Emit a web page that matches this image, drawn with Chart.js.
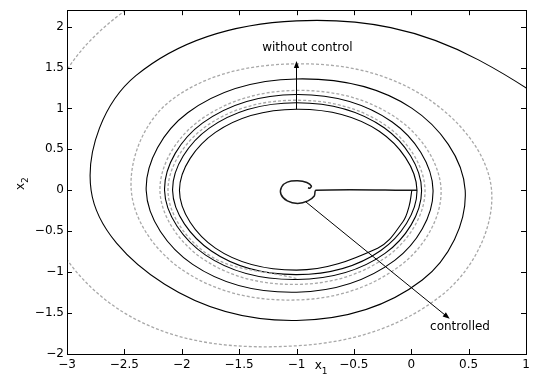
<!DOCTYPE html>
<html>
<head>
<meta charset="utf-8">
<script src="https://cdn.jsdelivr.net/npm/chart.js@4/dist/chart.umd.min.js"></script>
<style>
  html, body { margin: 0; padding: 0; background: #fff; }
  #c { display: block; }
</style>
</head>
<body>
<canvas id="c" width="537" height="379"></canvas>
<script>
// Axis ticks
const xTicks = [-3, -2.5, -2, -1.5, -1, -0.5, 0, 0.5, 1];
const yTicks = [-2, -1.5, -1, -0.5, 0, 0.5, 1, 1.5, 2];

// Uncontrolled trajectory (solid black), spiralling outwards clockwise round (-1, 0)
const freeX = [
  0.005, -0.018, -0.073, -0.293, -1.0, -1.707, -2.02, -1.707, -1.0, -0.279,
  0.05, -0.265, -1.0, -1.742, -2.08, -1.760, -1.0, -0.236,
  0.09, -0.229, -1.0, -1.792, -2.15, -1.820, -1.0, -0.166,
  0.19, -0.144, -1.0, -1.905, -2.31, -1.948, -1.0, 0.004,
  0.47, 0.096, -1.0, -2.149, -2.79, -2.400, -1.0, 0.590, 1.75, 1.1];
const freeY = [
  0, -0.19, -0.384, -0.707, -0.975, -0.707, 0, 0.707, 0.99, 0.721,
  0, -0.735, -1.03, -0.742, 0, 0.760, 1.07, 0.764,
  0, -0.771, -1.09, -0.792, 0, 0.820, 1.17, 0.834,
  0, -0.856, -1.245, -0.905, 0, 0.948, 1.36, 1.004,
  0, -1.096, -1.59, -1.149, 0, 1.400, 2.07, 1.590, 0, -2.1];

// Second uncontrolled trajectory (dotted grey)
const greyX = [
  -1.0, -1.778, -2.12, -1.785, -1.0, -0.215,
  0.12, -0.201, -1.0, -1.827, -2.19, -1.849, -1.0, -0.123,
  0.26, -0.088, -1.0, -1.983, -2.44, -2.096, -1.0, 0.131,
  0.70, 0.273, -1.0, -2.499, -3.25, -2.81, -1.0];
const greyY = [
  -1.08, -0.778, 0, 0.785, 1.10, 0.785,
  0, -0.799, -1.15, -0.827, 0, 0.849, 1.22, 0.877,
  0, -0.912, -1.34, -0.983, 0, 1.096, 1.545, 1.131,
  0, -1.273, -1.90, -1.499, 0, 1.81, 3.3];

// Controlled trajectory: jump towards the centre, then a small loop
const ctrlX = [0.05, -0.83, -0.845, -0.90, -0.99, -1.08, -1.135, -1.13, -1.08, -0.99, -0.91, -0.87, -0.885, -0.90];
const ctrlY = [0, 0, -0.07, -0.13, -0.16, -0.13, -0.05, 0.04, 0.10, 0.115, 0.095, 0.05, 0.025, 0.03];

// Annotation arrows: [x0, y0, x1, y1]
const arrowFree = [-1.0, 0.99, -1.0, 1.58];
const arrowCtrl = [-0.92, -0.14, 0.335, -1.57];
const labelFree = { text: 'without control', x: -0.905, y: 1.745 };
const labelCtrl = { text: 'controlled', x: 0.425, y: -1.67 };

const FONT = '"DejaVu Sans", sans-serif';
const pts = (xs, ys) => xs.map((x, i) => ({ x, y: ys[i] }));
const fmt = v => String(v).replace('-', '\u2212');

function arrow(ctx, xs, ys, a) {
  const x0 = xs.getPixelForValue(a[0]), y0 = ys.getPixelForValue(a[1]);
  const x1 = xs.getPixelForValue(a[2]), y1 = ys.getPixelForValue(a[3]);
  const ang = Math.atan2(y1 - y0, x1 - x0);
  const L = 7, W = 2.6;
  ctx.strokeStyle = '#000';
  ctx.fillStyle = '#000';
  ctx.lineWidth = 1;
  ctx.beginPath();
  ctx.moveTo(x0, y0);
  ctx.lineTo(x1 - Math.cos(ang) * L * 0.8, y1 - Math.sin(ang) * L * 0.8);
  ctx.stroke();
  ctx.beginPath();
  ctx.moveTo(x1, y1);
  ctx.lineTo(x1 - Math.cos(ang) * L - Math.sin(ang) * W, y1 - Math.sin(ang) * L + Math.cos(ang) * W);
  ctx.lineTo(x1 - Math.cos(ang) * L + Math.sin(ang) * W, y1 - Math.sin(ang) * L - Math.cos(ang) * W);
  ctx.closePath();
  ctx.fill();
}

const framePlugin = {
  id: 'frame',
  afterDatasetsDraw(chart) {
    const { ctx, chartArea: a, scales: { x, y } } = chart;
    ctx.save();
    // box
    ctx.strokeStyle = '#000';
    ctx.lineWidth = 1;
    ctx.strokeRect(Math.round(a.left) + 0.5, Math.round(a.top) + 0.5,
                   Math.round(a.right) - Math.round(a.left), Math.round(a.bottom) - Math.round(a.top));
    // inward ticks on all four sides
    const T = 5;
    ctx.beginPath();
    xTicks.forEach(v => {
      const p = Math.round(x.getPixelForValue(v)) + 0.5;
      ctx.moveTo(p, a.bottom); ctx.lineTo(p, a.bottom - T);
      ctx.moveTo(p, a.top); ctx.lineTo(p, a.top + T);
    });
    yTicks.forEach(v => {
      const p = Math.round(y.getPixelForValue(v)) + 0.5;
      ctx.moveTo(a.left, p); ctx.lineTo(a.left + T, p);
      ctx.moveTo(a.right, p); ctx.lineTo(a.right - T, p);
    });
    ctx.stroke();

    // annotation arrows and labels
    arrow(ctx, x, y, arrowFree);
    arrow(ctx, x, y, arrowCtrl);
    ctx.fillStyle = '#000';
    ctx.font = '12px ' + FONT;
    ctx.textAlign = 'center';
    ctx.textBaseline = 'middle';
    [labelFree, labelCtrl].forEach(l => ctx.fillText(l.text, x.getPixelForValue(l.x), y.getPixelForValue(l.y)));

    // axis titles with subscripts
    ctx.textAlign = 'left';
    ctx.textBaseline = 'alphabetic';
    const tx = a.left + a.width * 0.540, ty = a.bottom + 15;
    ctx.font = '12px ' + FONT;
    ctx.fillText('x', tx, ty);
    ctx.font = '9px ' + FONT;
    ctx.fillText('1', tx + 7, ty + 5);

    ctx.translate(24, (a.top + a.bottom) / 2 + 2);
    ctx.rotate(-Math.PI / 2);
    ctx.font = '12px ' + FONT;
    ctx.fillText('x', -6, 0);
    ctx.font = '9px ' + FONT;
    ctx.fillText('2', 1, 4);
    ctx.restore();
  }
};

new Chart(document.getElementById('c'), {
  type: 'scatter',
  data: {
    datasets: [
      { data: pts(greyX, greyY), showLine: true, borderColor: '#a8a8a8', borderWidth: 1.3,
        borderDash: [3, 2], pointRadius: 0, tension: 0.37 },
      { data: pts(freeX, freeY), showLine: true, borderColor: '#000', borderWidth: 1.1,
        pointRadius: 0, tension: 0.37 },
      { data: pts(ctrlX, ctrlY), showLine: true, borderColor: '#1a1a1a', borderWidth: 1.5,
        pointRadius: 0, tension: 0.3 }
    ]
  },
  options: {
    responsive: false,
    animation: false,
    events: [],
    layout: { padding: { left: 0, right: 11, top: 7, bottom: 0 } },
    elements: { line: { capBezierPoints: false } },
    plugins: { legend: { display: false }, tooltip: { enabled: false } },
    scales: {
      x: {
        type: 'linear', min: -3, max: 1,
        afterBuildTicks: s => { s.ticks = xTicks.map(v => ({ value: v })); },
        afterFit: s => { s.height = 25; },
        grid: { display: false, drawTicks: false },
        border: { display: false },
        ticks: { callback: fmt, color: '#000', font: { family: FONT, size: 12 }, padding: 4, maxRotation: 0, autoSkip: false }
      },
      y: {
        type: 'linear', min: -2, max: 2.2,
        afterBuildTicks: s => { s.ticks = yTicks.map(v => ({ value: v })); },
        afterFit: s => { s.width = 67; },
        grid: { display: false, drawTicks: false },
        border: { display: false },
        ticks: { callback: fmt, color: '#000', font: { family: FONT, size: 12 }, padding: 3, autoSkip: false }
      }
    }
  },
  plugins: [framePlugin]
});
</script>
</body>
</html>
